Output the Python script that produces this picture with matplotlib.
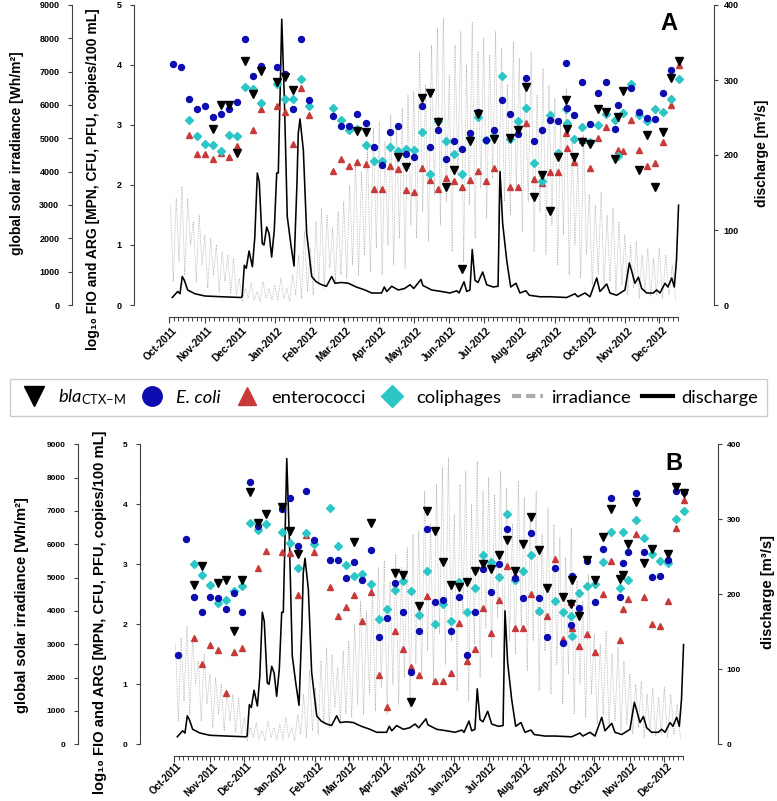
import matplotlib; matplotlib.use("Agg")
import matplotlib.pyplot as plt
import matplotlib.dates as mdates
from matplotlib.lines import Line2D
from matplotlib.transforms import ScaledTranslation, blended_transform_factory
import numpy as np
import pandas as pd

nan = np.nan
W, H, DPI = 777, 801, 100
BLUE = "#0c0cb0"; RED = "#c83a3a"; CYAN = "#2cc6c6"; GREY = "#ababab"; AX = "#404040"

plt.rcParams["mathtext.fontset"] = "custom"
plt.rcParams["mathtext.rm"] = "Lato"
plt.rcParams["mathtext.it"] = "Lato:italic"

# ---------------- data ----------------
start = pd.Timestamp("2011-10-01")
x_end = start + pd.Timedelta(days=445)

# weekly sampling (Tuesdays) plus two extra sampling days
samp = list(pd.date_range("2011-10-04", periods=64, freq="7D"))
samp.insert(50, pd.Timestamp("2012-09-12"))
samp.insert(57, pd.Timestamp("2012-10-26"))

# panel A (log10 values), order = samp
A_bla = [nan, nan, nan, nan, nan, 2.93, 3.34, 3.33, 2.53, 4.06,
         3.51, 3.90, nan, 3.72, 3.80, 3.58, nan, nan, nan, nan,
         nan, nan, nan, 2.90, 2.89, nan, nan, nan, 2.46, 2.30,
         nan, 3.45, 3.53, 3.05, 1.97, 2.25, 0.60, 2.73, 3.18, nan,
         2.77, nan, 2.79, 2.92, 3.63, 1.80, 2.17, 1.57, 2.46, 3.42,
         2.94,
         2.47, 2.71, 2.68, 3.26, 3.21, 2.43,
         3.14,
         3.56, nan, 2.25, 2.84, 1.96, 2.89, 3.79, 4.07]
A_ecoli = [4.02, 3.96, 3.43, 3.26, 3.31, 3.14, 3.18, 3.27, 3.38, 4.43,
           3.82, 3.98, nan, 3.96, 3.85, 3.27, 4.43, 3.42, nan, nan,
           3.15, 2.98, 2.98, 3.18, 3.03, 2.64, 2.33, 2.88, 2.98, 2.51,
           2.46, 3.31, 2.64, 2.92, 2.44, 2.73, 2.60, 2.86, 3.22, 2.75,
           2.91, 3.42, 3.19, 2.85, 3.78, 2.73, 2.92, 3.08, 3.06, 4.03,
           3.29,
           3.17, 3.72, 3.02, 3.53, 3.72, 2.93,
           3.34,
           nan, 3.62, 3.22, 3.11, 3.10, 3.54, 3.92, nan]
A_ent = [nan, nan, 2.84, 2.51, 2.51, 2.43, 2.53, 2.46, 2.65, nan,
         2.91, 3.26, nan, 3.31, 3.22, 2.69, 3.62, 3.17, nan, nan,
         2.24, 2.44, 2.31, 2.39, 2.35, 1.93, 1.93, 2.31, 2.26, 1.92,
         1.89, 2.29, 2.08, 1.93, 2.11, 2.07, 1.96, 2.08, 2.23, 2.06,
         2.29, nan, 1.97, 1.97, 3.04, 2.10, 2.03, 2.21, 2.22, 2.87,
         2.62,
         2.39, 2.75, 2.28, 2.79, 2.97, nan,
         2.59,
         2.57, 3.09, 2.59, 2.31, 2.37, 2.72, 3.33, 4.00]
A_col = [nan, nan, 3.08, 2.81, 2.69, 2.67, 2.57, 2.84, 2.82, 3.63,
         3.60, 3.37, nan, 3.68, 3.43, 3.43, 3.76, 3.32, nan, nan,
         3.29, 3.08, 2.91, 2.93, 2.66, 2.40, 2.40, 2.63, 2.57, 2.60,
         2.58, 2.88, 2.18, 3.07, 2.74, 2.52, 2.18, 2.79, 3.14, 2.75,
         2.82, 3.82, 2.76, 3.07, 3.28, 2.37, 2.07, 3.17, 2.53, 3.27,
         3.03,
         2.77, 2.97, 2.72, 3.00, 3.19, 3.08,
         2.48,
         3.20, 3.69, 3.17, 3.07, 3.26, 3.22, 3.43, 3.77]

# panel B
B_bla = [nan, nan, 2.66, 2.97, nan, 2.68, 2.74, 1.88, 2.74, 4.20,
         3.69, 3.84, nan, 3.96, 3.56, 3.17, nan, nan, nan, nan,
         nan, nan, 3.37, nan, 3.69, nan, nan, 2.86, 2.82, 0.70,
         2.30, 3.89, 3.55, 3.03, 2.66, 2.62, 2.71, 2.88, 3.00, 2.92,
         3.15, 3.40, 2.88, 3.33, 3.79, 3.23, 2.61, nan, 2.46, 2.34,
         2.74,
         2.13, 3.07, 2.74, 3.46, 3.92, 2.76,
         2.82,
         3.34, 4.03, 3.02, 3.25, nan, 3.17, 4.28, 4.19]
B_ecoli = [1.49, 3.42, 2.46, 2.21, 2.46, 2.43, 2.26, 2.52, 2.21, 4.37,
           3.63, nan, nan, 3.92, 4.10, 3.30, 4.22, 3.40, nan, 3.07,
           3.07, 2.77, 3.03, 2.73, 3.23, 1.79, 2.11, 2.69, 2.21, 1.21,
           1.88, 3.58, 2.37, 2.40, 1.88, 2.46, 1.49, 2.21, 2.92, 2.54,
           3.00, 3.58, 2.77, 2.43, 3.52, 2.43, 1.79, 2.93, 1.68, 1.98,
           2.81,
           2.27, 3.05, 2.37, 3.25, 4.10, 2.45,
           3.02,
           3.21, 4.18, 3.20, 2.78, 2.81, 3.07, 4.22, 4.21]
B_ent = [nan, nan, 1.77, 1.33, 1.66, 1.57, 0.86, 1.54, 1.60, nan,
         2.93, 3.22, nan, 3.21, 3.18, 2.49, 3.49, 3.21, nan, 2.62,
         2.14, 2.29, 2.48, 2.06, 2.54, 1.16, 0.62, 1.89, 1.59, 1.29,
         1.16, 2.47, 1.06, 1.06, 1.19, 2.03, 1.39, 1.58, 2.28, 1.86,
         2.41, 2.97, 1.94, 1.93, 2.50, 2.24, 2.13, 3.09, 1.75, 2.37,
         1.93,
         1.64, 1.83, 1.53, 2.50, 3.06, 1.73,
         2.25,
         2.42, 3.50, 2.46, 2.01, 1.97, 2.38, 3.61, 4.07]
B_col = [nan, nan, 3.01, 2.82, 2.66, 2.36, 2.40, 2.56, 2.64, 3.69,
         3.57, 3.67, nan, 3.53, 3.35, 2.93, 3.52, 3.34, nan, 3.93,
         3.30, 2.98, 2.81, 2.84, 2.67, 2.08, 2.26, 2.57, 2.72, 2.56,
         2.16, 2.89, 2.00, 2.34, 2.05, 2.71, 2.21, 2.60, 3.16, 3.04,
         2.78, 3.83, 2.74, 2.89, 3.16, 2.22, nan, 2.39, 2.21, 2.13,
         1.81,
         2.52, 2.64, 2.67, 3.04, 3.54, 2.61,
         3.53,
         2.74, 3.74, 3.44, 3.17, 3.06, 3.02, 3.76, 3.88]

# discharge [m3/s]: day after 2011-10-01, value
q_day = [2.6, 7.3, 9.3, 11.3, 13.1, 16, 22.4, 31, 45.6, 62.5, 63.5, 65.4, 67.1, 69.5,
         72.4, 74.5, 76.7, 78.4, 81, 82.5, 84.9, 87, 89.2, 91.5, 93.6, 95, 98, 100.3,
         102.8, 106, 108.7, 111.2, 112.4, 113.9, 116.8, 119.7, 124.1, 128, 132.8, 137,
         141.5, 144.4, 150, 156, 163, 170.5, 176.4, 185, 187.4, 189.5, 193.8, 199.6,
         205, 209.8, 213, 219.3, 221, 228.7, 237.4, 244.6, 250.5, 252.5, 256.8, 259.2,
         262, 264, 266.4, 269, 273.1, 276.6, 282.4, 286.5, 288.2, 290.5, 294, 297.5,
         302.1, 305.6, 310.8, 313.7, 323, 331.8, 346.3, 353.5, 356, 362.3, 366.6,
         372.5, 375.3, 381.2, 384, 389.9, 397.1, 400.9, 403, 405.8, 408.8, 411.7, 416,
         421.8, 424.7, 427.6, 432, 434.5, 437.8, 440.1, 442, 443.8]
q_val = [10, 18, 15, 38, 33, 20, 15, 12, 11, 10, 11, 53, 49, 72,
         51, 90, 176, 164, 82, 80, 104, 95, 64, 100, 176, 176, 381, 273,
         118, 80, 52, 160, 229, 248, 207, 96, 38, 31, 27, 25,
         38, 29, 30, 29, 24, 20, 16, 16, 24, 18, 25, 20,
         22, 27, 22, 34, 26, 20, 18, 16, 19, 16, 31, 18,
         20, 74, 33, 30, 44, 27, 24, 25, 178, 109, 60, 24,
         29, 16, 19, 13, 11, 11, 10, 15, 11, 16, 11,
         36, 18, 28, 16, 13, 20, 56, 45, 29, 37, 22, 16,
         16, 20, 16, 29, 24, 36, 24, 60, 133]

# global solar irradiance [Wh/m2], read month by month (peaks/troughs)
irr_edges = ["2011-10-02", "2011-11-01", "2011-12-01", "2012-01-01", "2012-02-01",
             "2012-03-01", "2012-04-01", "2012-05-01", "2012-06-01", "2012-07-01",
             "2012-08-01", "2012-09-01", "2012-10-01", "2012-11-01", "2012-12-01",
             "2012-12-18"]
irr_months = [
    [3000, 700, 3200, 1300, 3550, 900, 3200, 1800, 2500, 700, 2700, 1200],
    [2100, 500, 2000, 900, 1800, 400, 1600, 700, 1500, 350, 1400, 300],
    [800, 100, 500, 200, 650, 150, 400, 100, 700, 200, 500, 150],
    [600, 150, 800, 200, 500, 100, 900, 300, 1500, 200, 2200, 400],
    [1700, 300, 2500, 600, 2900, 500, 2700, 1100, 2300, 700, 2800, 900],
    [3100, 800, 3600, 1200, 4300, 900, 4000, 1500, 4700, 1000, 5300, 1700],
    [5500, 900, 4900, 1800, 5700, 1200, 5300, 2000, 5900, 1100, 6300, 2400],
    [6400, 2000, 7600, 2800, 6600, 1900, 7800, 3300, 8300, 2400, 8600, 3100],
    [6900, 1600, 7800, 3900, 8200, 1300, 7200, 3000, 8500, 2000, 7600, 3500],
    [8000, 2600, 7500, 3800, 8200, 2400, 7700, 3100, 6600, 2700, 7900, 3500],
    [7400, 2200, 6800, 3100, 7600, 1600, 6300, 2800, 7100, 1500, 6600, 2400],
    [6200, 1200, 5600, 2100, 6500, 900, 4900, 1800, 4300, 800, 5100, 1500],
    [3300, 600, 3000, 900, 3400, 500, 2700, 700, 2900, 400, 2500, 600],
    [2100, 300, 1800, 500, 1900, 200, 1500, 400, 1700, 250, 1400, 300],
    [1700, 200, 1500, 300, 1200, 150],
]

irr_t, irr_v = [], []
for i, vals in enumerate(irr_months):
    a, b = pd.Timestamp(irr_edges[i]), pd.Timestamp(irr_edges[i + 1])
    step = (b - a) / len(vals)
    for j, v in enumerate(vals):
        irr_t.append(a + step * j); irr_v.append(v)
q_t = [start + pd.Timedelta(days=d) for d in q_day]

# ---------------- figure ----------------
fig = plt.figure(figsize=(W / DPI, H / DPI), dpi=DPI)
PT = 0.72  # points per pixel


def panel(left, top, off_log, off_irr, off_q, off_x, lab_dy, xfs, letter, tfam, tfs, lab, lab_fs, series):
    rect = [left / W, 1 - (top + 300) / H, 445 * 1.1475 / W, 300 / H]
    ax_irr = fig.add_axes(rect, zorder=1)
    ax_q = fig.add_axes(rect, zorder=2)
    ax = fig.add_axes(rect, zorder=3)
    for a in (ax_irr, ax_q, ax):
        a.patch.set_visible(False)
        for s in a.spines.values():
            s.set_visible(False)
        a.set_xlim(start, x_end)
        a.tick_params(axis="y", direction="out", length=2.9, width=0.8, color=AX)
    ax_irr.tick_params(axis="x", bottom=False, labelbottom=False)
    ax_q.tick_params(axis="x", bottom=False, labelbottom=False)

    # irradiance axis (outer left)
    ax_irr.plot(irr_t, irr_v, color=GREY, lw=0.55, ls=(0, (1.0, 1.2)))
    ax_irr.set_ylim(0, 9000)
    ax_irr.set_yticks(np.arange(0, 9001, 1000))
    sp = ax_irr.spines["left"]; sp.set_visible(True); sp.set_position(("outward", off_irr * PT))
    sp.set_bounds(0, 9000); sp.set_color(AX); sp.set_linewidth(0.8)

    # discharge axis (right)
    ax_q.plot(q_t, q_val, color="black", lw=1.15)
    ax_q.set_ylim(0, 400)
    ax_q.yaxis.tick_right()
    ax_q.set_yticks(np.arange(0, 401, 100))
    sp = ax_q.spines["right"]; sp.set_visible(True); sp.set_position(("outward", off_q * PT))
    sp.set_bounds(0, 400); sp.set_color(AX); sp.set_linewidth(0.8)

    # log10 axis (inner left) with markers
    bla, eco, ent, col = series
    ax.set_ylim(0, 5)
    ax.set_yticks(range(6))
    sp = ax.spines["left"]; sp.set_visible(True); sp.set_position(("outward", off_log * PT))
    sp.set_bounds(0, 5); sp.set_color(AX); sp.set_linewidth(0.8)
    ax.plot(samp, ent, ls="none", marker="^", ms=4.8, color=RED, clip_on=False)
    ax.plot(samp, col, ls="none", marker="D", ms=3.7, color=CYAN, clip_on=False)
    ax.plot(samp, eco, ls="none", marker="o", ms=4.3, color=BLUE, clip_on=False)
    ax.plot(samp, bla, ls="none", marker="v", ms=5.8, color="black", clip_on=False)

    for a, pad in ((ax_irr, 6.0), (ax, 6.0), (ax_q, 3.6)):
        a.tick_params(axis="y", pad=pad)
        for t in a.get_yticklabels():
            t.set_family(tfam); t.set_fontsize(tfs); t.set_fontweight("bold")

    # date axis
    sp = ax.spines["bottom"]; sp.set_visible(True); sp.set_position(("outward", off_x * PT))
    sp.set_bounds(mdates.date2num(start), mdates.date2num(pd.Timestamp("2012-12-17")))
    sp.set_color(AX); sp.set_linewidth(0.8)
    ax.xaxis.set_major_locator(mdates.MonthLocator())
    ax.xaxis.set_minor_locator(mdates.DayLocator(bymonthday=[5, 9, 13, 17, 21, 25, 29]))
    ax.tick_params(axis="x", which="major", length=4.1, width=0.8, color=AX, labelbottom=False)
    ax.tick_params(axis="x", which="minor", length=2.6, width=0.7, color=AX)
    tr = blended_transform_factory(ax.transData, ax.transAxes) + \
        ScaledTranslation(2.4 / DPI, -(off_x + lab_dy) / DPI, fig.dpi_scale_trans)
    for m in pd.date_range("2011-10-01", "2012-12-01", freq="MS"):
        ax.text(m, 0, m.strftime("%b-%Y"), transform=tr, rotation=45, ha="right", va="top",
                rotation_mode="anchor", fontsize=xfs, fontweight="bold", family="Liberation Sans")

    # axis titles
    (xi, yi), (xl, yl), (xq, yq) = lab
    fig.text(xi / W, 1 - yi / H, "global solar irradiance [Wh/m²]", rotation=90, ha="center",
             va="center", fontsize=lab_fs, fontweight="bold", family=["Liberation Sans", "DejaVu Sans"])
    fig.text(xl / W, 1 - yl / H, "log₁₀ FIO and ARG [MPN, CFU, PFU, copies/100 mL]", rotation=90,
             ha="center", va="center", fontsize=lab_fs, fontweight="bold",
             family=["Liberation Sans", "DejaVu Sans"])
    fig.text(xq / W, 1 - yq / H, "discharge [m³/s]", rotation=90, ha="center", va="center",
             fontsize=lab_fs, fontweight="bold", family=["Liberation Sans", "DejaVu Sans"])
    ax.text(0.995, 0.975, letter, transform=ax.transAxes, ha="right", va="top",
            fontsize=17, fontweight="bold", family="Liberation Sans")
    return ax


panel(169.3, 5, 35.3, 97.6, 34.5, 12.3, 8.0, 7.3, "A", "Liberation Sans", 6.5,
      ((17, 153), (93, 179), (762, 153)), 10, (A_bla, A_ecoli, A_ent, A_col))
panel(174.3, 444.3, 34.3, 96.3, 32.9, 11.7, 5.0, 6.9, "B", ["Liberation Sans Narrow", "Liberation Sans"], 6.0,
      ((22, 605), (100, 612), (768, 592)), 10.6, (B_bla, B_ecoli, B_ent, B_col))

# legend
handles = [Line2D([], [], ls="none", marker="v", ms=14, color="black"),
           Line2D([], [], ls="none", marker="o", ms=14, color=BLUE),
           Line2D([], [], ls="none", marker="^", ms=13, color=RED),
           Line2D([], [], ls="none", marker="D", ms=11, color=CYAN),
           Line2D([], [], ls=(0, (2.2, 1.2)), lw=3, color=GREY),
           Line2D([], [], ls="-", lw=3, color="black")]
labels = [r"$\mathit{bla}_{\mathrm{CTX{-}M}}$", "E. coli", "enterococci", "coliphages",
          "irradiance", "discharge"]
leg = fig.legend(handles, labels, loc="center", ncol=6,
                 bbox_to_anchor=(0.5, 1 - 397.5 / H),
                 prop={"family": "Lato", "size": 13.2}, frameon=True, fancybox=False,
                 edgecolor="#c0c0c0", handlelength=1.7, handletextpad=0.45,
                 columnspacing=0.6, borderaxespad=0, borderpad=0.45)
leg.get_frame().set_linewidth(1.0)
leg.get_texts()[1].set_fontstyle("italic")

fig.savefig("out.png", dpi=DPI)
